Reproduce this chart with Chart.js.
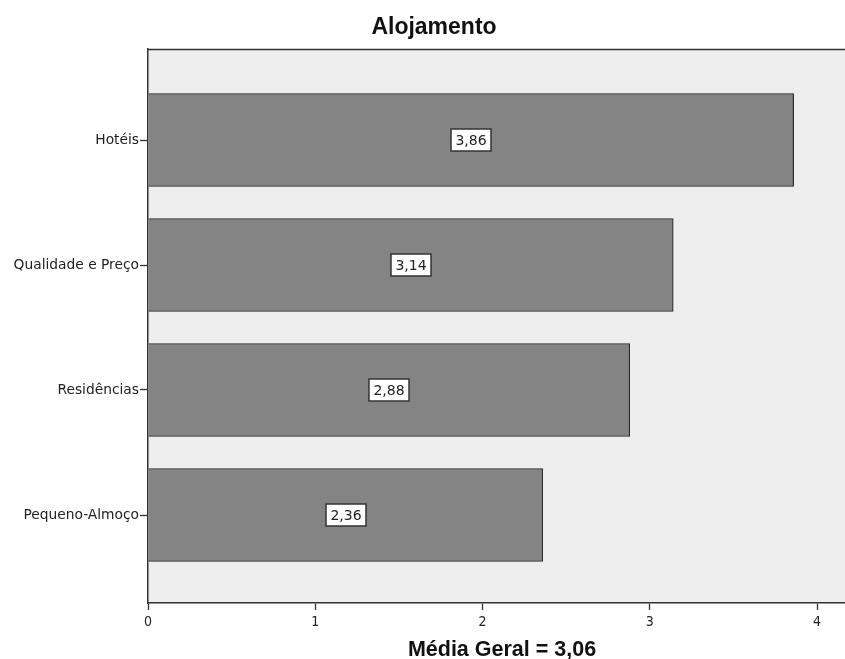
<!DOCTYPE html>
<html>
<head>
<meta charset="utf-8">
<script src="https://cdn.jsdelivr.net/npm/chart.js@4"></script>
<style>
  html, body { margin: 0; padding: 0; background: #fff; }
  #wrap { width: 845px; height: 659px; position: relative; }
</style>
</head>
<body>
<div id="wrap"><canvas id="chart"></canvas></div>
<script>
const categories = ['Hotéis', 'Qualidade e Preço', 'Residências', 'Pequeno-Almoço'];
const means = [3.86, 3.14, 2.88, 2.36];
const xTicks = [0, 1, 2, 3, 4];
const chartTitle = 'Alojamento';
const xTitle = 'Média Geral = 3,06';

const fmt = v => v.toFixed(2).replace('.', ',');

// plot background, top border, titles and boxed value labels
// (the original chart was cropped on the right, so titles sit left of the plot centre)
const framePlugin = {
    id: 'frame',
    beforeDraw(chart) {
        const a = chart.chartArea;
        const ctx = chart.ctx;
        ctx.save();
        ctx.fillStyle = '#eeeeee';
        ctx.fillRect(a.left, a.top, a.right - a.left, a.bottom - a.top);
        ctx.restore();
    },
    afterDraw(chart) {
        const a = chart.chartArea;
        const ctx = chart.ctx;
        ctx.save();
        ctx.strokeStyle = '#333';
        ctx.lineWidth = 1.5;
        ctx.beginPath();
        ctx.moveTo(a.left, a.top + 0.5);
        ctx.lineTo(a.right, a.top + 0.5);
        ctx.stroke();

        ctx.fillStyle = '#111';
        ctx.textAlign = 'center';
        ctx.textBaseline = 'alphabetic';
        ctx.font = 'bold 23px "Liberation Sans", sans-serif';
        ctx.fillText(chartTitle, 434, 34);
        ctx.font = 'bold 21.5px "Liberation Sans", sans-serif';
        ctx.fillText(xTitle, 502, 656);

        ctx.font = '14px "DejaVu Sans", sans-serif';
        ctx.textBaseline = 'middle';
        chart.getDatasetMeta(0).data.forEach((bar, i) => {
            const cx = Math.round((bar.x + bar.base) / 2);
            const cy = Math.round(bar.y);
            const txt = fmt(means[i]);
            const w = Math.round(ctx.measureText(txt).width + 9);
            const h = 22;
            ctx.fillStyle = '#fff';
            ctx.fillRect(cx - w / 2, cy - h / 2, w, h);
            ctx.strokeStyle = '#333';
            ctx.lineWidth = 1.5;
            ctx.strokeRect(cx - w / 2, cy - h / 2, w, h);
            ctx.fillStyle = '#222';
            ctx.fillText(txt, cx, cy + 1);
        });
        ctx.restore();
    }
};

new Chart(document.getElementById('chart'), {
    type: 'bar',
    data: {
        datasets: [{
            data: means.map((v, i) => ({ x: v, y: i })),
            backgroundColor: '#848484',
            borderColor: '#2a2a2a',
            borderWidth: 1.2,
            barThickness: 93
        }]
    },
    options: {
        indexAxis: 'y',
        responsive: true,
        maintainAspectRatio: false,
        animation: false,
        layout: { padding: { left: 0, right: 0, top: 49, bottom: 0 } },
        plugins: {
            legend: { display: false },
            tooltip: { enabled: false },
            title: { display: false }
        },
        scales: {
            x: {
                type: 'linear',
                min: 0,
                max: 4.167,
                afterBuildTicks: s => { s.ticks = xTicks.map(v => ({ value: v })); },
                afterFit: s => { s.height = 56; },
                ticks: {
                    color: '#222',
                    padding: 4,
                    maxRotation: 0,
                    font: { family: '"Liberation Sans Narrow", "DejaVu Sans Condensed", sans-serif', size: 14 },
                    callback: v => String(v)
                },
                grid: { drawOnChartArea: false, tickLength: 7, color: '#333', tickWidth: 1.3 },
                border: { display: true, color: '#333', width: 1.5 }
            },
            y: {
                type: 'linear',
                reverse: true,
                offset: false,
                min: -0.728,
                max: 3.704,
                afterBuildTicks: s => { s.ticks = categories.map((c, i) => ({ value: i })); },
                afterFit: s => { s.width = 148; },
                ticks: {
                    color: '#222',
                    padding: 1,
                    font: { family: '"DejaVu Sans", sans-serif', size: 13.8 },
                    callback: v => categories[v]
                },
                grid: { offset: false, drawOnChartArea: false, tickLength: 8, color: '#333', tickWidth: 1.3 },
                border: { display: true, color: '#333', width: 1.5 }
            }
        }
    },
    plugins: [framePlugin]
});
</script>
</body>
</html>
